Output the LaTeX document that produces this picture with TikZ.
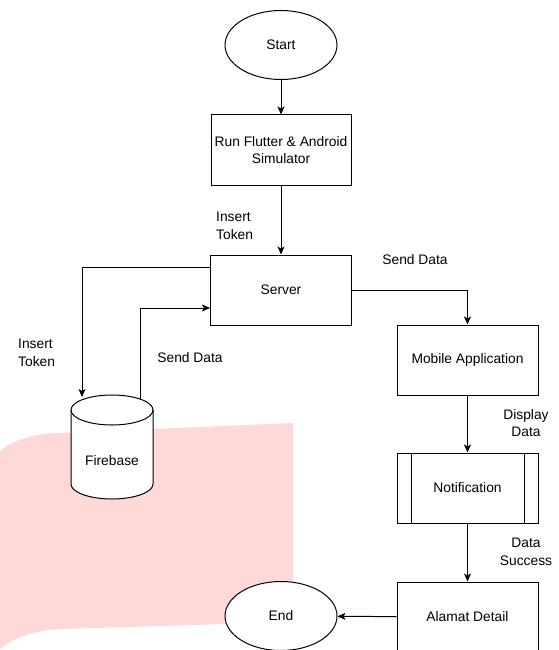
\documentclass[tikz,border=0pt]{standalone}
\usepackage{fontspec}
\setmainfont{Liberation Sans}
\usetikzlibrary{arrows.meta,shapes.geometric}
\definecolor{bgpink}{RGB}{255,216,216}
\tikzset{
	flowbox/.style={draw, fill=white, rectangle, line width=1pt, minimum width=141pt, minimum height=70pt, align=center},
	term/.style={draw, fill=white, ellipse, line width=1pt, minimum width=112pt, minimum height=69pt},
	lbl/.style={align=center, inner sep=0pt},
	flow/.style={line width=1pt, -{Stealth[length=8pt,width=7pt,inset=2pt]}}
}
\begin{document}
\begin{tikzpicture}[x=1pt,y=-1pt,font=\fontsize{13.8}{17.5}\selectfont]
				\useasboundingbox (0,0) rectangle (558,650);
				
				\fill[bgpink] (0,451) .. controls (15,440) and (30,434) .. (60,433) -- (293,423) -- (293,622) -- (60,629) .. controls (30,631) and (15,638) .. (0,649) -- cycle;
				
				\node[term] (start) at (281,45) {Start};
				\node[flowbox, minimum width=140pt] (run) at (281,150) {Run Flutter \& Android\\Simulator};
				\node[flowbox] (server) at (281,290) {Server};
				\node[flowbox] (mobile) at (467.5,360) {Mobile Application};
				\node[flowbox] (notif) at (467.5,488) {Notification};
				\node[flowbox] (alamat) at (467.5,617) {Alamat Detail};
				\node[term] (end) at (281,616) {End};
				
				\draw[line width=1pt] ([xshift=15pt]notif.north west) -- ([xshift=15pt]notif.south west);
				\draw[line width=1pt] ([xshift=-14pt]notif.north east) -- ([xshift=-14pt]notif.south east);
				
				\draw[line width=1pt, fill=white] (71,410) -- (71,484) arc(180:0:41 and 15) -- (153,410) arc(360:180:41 and 15) -- cycle;
				\draw[line width=1pt] (71,410) arc(180:0:41 and 15);
				\node (firebase) at (112,461) {Firebase};
				
				\coordinate (tokenend) at (82,397);
				\coordinate (sendstart) at (140,399);
				
				\draw[flow] (start) -- (run);
				\draw[flow] (run) -- (server);
				\draw[flow] ([yshift=23pt]server.west) -| (tokenend);
				\draw[flow] (sendstart) |- ([yshift=-18pt]server.west);
				\draw[flow] (server.east) -| (mobile.north);
				\draw[flow] (mobile) -- (notif);
				\draw[flow] (notif) -- (alamat);
				\draw[flow] (alamat) -- (end);
				
				\node[lbl, align=left, anchor=west] (tok1) at (216,226) {Insert\\Token};
				\node[lbl, align=left, anchor=west] (tok2) at (18,353) {Insert\\Token};
				\node[lbl] (send1) at (190,358) {Send Data};
				\node[lbl] (send2) at (415,260) {Send Data};
				\node[lbl] (disp) at (526,423) {Display\\Data};
				\node[lbl] (succ) at (526,552) {Data\\Success};
\end{tikzpicture}
\end{document}
